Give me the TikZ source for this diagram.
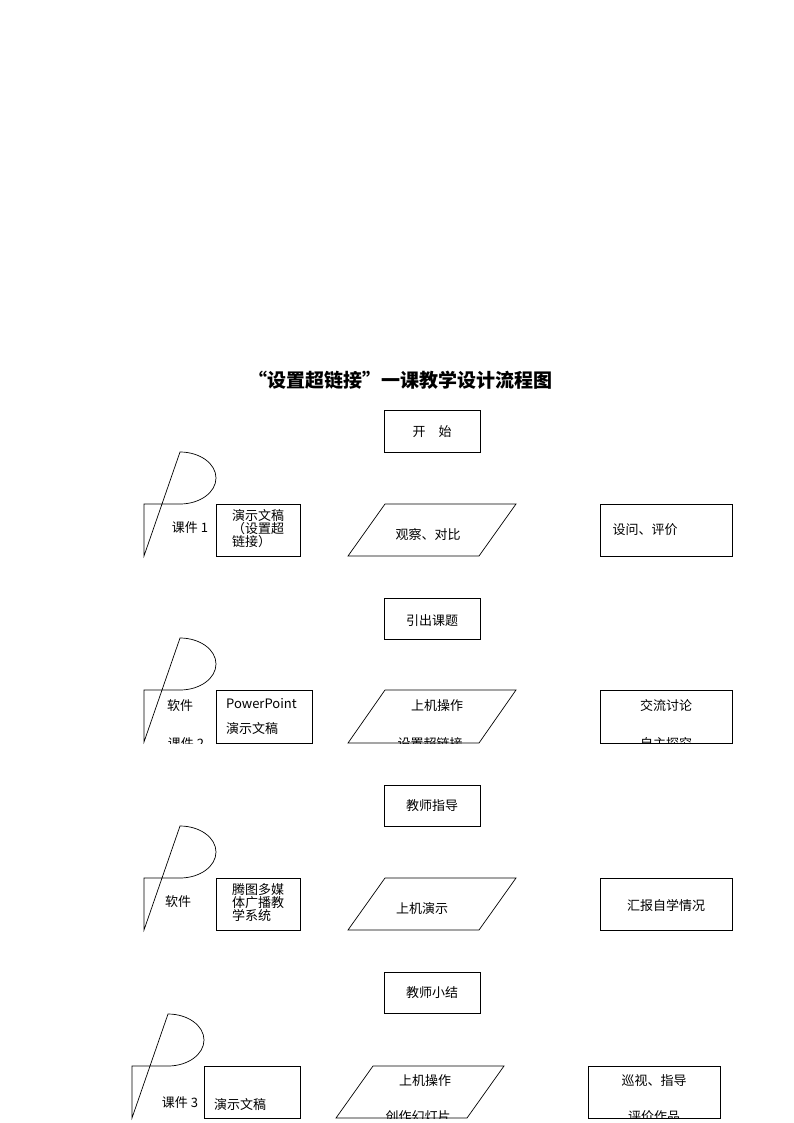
\documentclass[tikz,border=0pt]{standalone}
\usepackage{fontspec}
\setmainfont{Liberation Serif}
\newfontfamily\cjk{Noto Sans CJK SC}
\begin{document}
\begin{tikzpicture}[x=1pt,y=-1pt,
  bx/.style={draw,line width=0.7pt},
  tx/.style={font=\cjk\fontsize{13}{15}\selectfont,inner sep=0pt},
  ttl/.style={font=\cjk\bfseries\fontsize{19}{22}\selectfont}]
\useasboundingbox (0,0) rectangle (794,1123);
\node[ttl] (title) at (400,380) {“设置超链接”一课教学设计流程图};
% center column boxes
\draw[bx] (384,410) rectangle (480,452); \node[tx] (start) at (432,432) {开\quad 始};
\draw[bx] (384,598) rectangle (480,639); \node[tx] (yc) at (432,621) {引出课题};
\draw[bx] (384,785) rectangle (480,826); \node[tx] (zd) at (432,806) {教师指导};
\draw[bx] (384,972) rectangle (480,1013); \node[tx] (xj) at (432,993) {教师小结};
% delay shapes
\foreach \x/\y in {144/504,144/690,144/878,132/1066}{
  \draw[bx] (\x,\y) -- (\x+36,\y) arc[start angle=90,end angle=-90,x radius=36,y radius=26] -- (\x,\y+52) -- cycle;}
% row 1
\node[tx] (k1) at (190,528) {课件 1};
\draw[bx] (216,504) rectangle (300,556);
\node[tx,align=left,font=\cjk\fontsize{13}{13}\selectfont] (r1) at (258,529) {演示文稿\\（设置超\\链接）};
\draw[bx] (348,556) -- (385,504) -- (516,504) -- (479,556) -- cycle;
\node[tx] (p1) at (428,535) {观察、对比};
\draw[bx] (600,504) rectangle (732,556); \node[tx] (q1) at (645,530) {设问、评价};
% row 2
\node[tx] (s2) at (180,706) {软件};
\begin{scope}\clip (144,690) rectangle (216,743); \node[tx] (k2) at (186,744) {课件 2};\end{scope}
\draw[bx] (216,690) rectangle (312,743);
\node[tx,anchor=west] (r2a) at (226,704) {PowerPoint};
\node[tx,anchor=west] (r2b) at (226,729) {演示文稿};
\draw[bx] (348,743) -- (385,690) -- (516,690) -- (479,743) -- cycle;
\node[tx] (p2) at (437,706) {上机操作};
\begin{scope}\clip (340,690) rectangle (520,743); \node[tx] (p2b) at (430,744) {设置超链接};\end{scope}
\draw[bx] (600,690) rectangle (732,743); \node[tx] (q2) at (666,706) {交流讨论};
\begin{scope}\clip (600,690) rectangle (732,743); \node[tx] (q2b) at (666,744) {自主探究};\end{scope}
% row 3
\node[tx] (s3) at (178,902) {软件};
\draw[bx] (216,878) rectangle (300,930);
\node[tx,align=left,font=\cjk\fontsize{13}{13}\selectfont] (r3) at (258,903) {腾图多媒\\体广播教\\学系统};
\draw[bx] (348,930) -- (385,878) -- (516,878) -- (479,930) -- cycle;
\node[tx] (p3) at (422,909) {上机演示};
\draw[bx] (600,878) rectangle (732,930); \node[tx] (q3) at (666,906) {汇报自学情况};
% row 4
\begin{scope}\clip (132,1066) rectangle (204,1118); \node[tx] (k3) at (180,1103) {课件 3};\end{scope}
\draw[bx] (204,1066) rectangle (300,1118);
\node[tx,anchor=west] (r4) at (214,1105) {演示文稿};
\draw[bx] (336,1118) -- (373,1066) -- (504,1066) -- (467,1118) -- cycle;
\node[tx] (p4) at (425,1081) {上机操作};
\begin{scope}\clip (330,1066) rectangle (510,1118); \node[tx] (p4b) at (418,1117) {创作幻灯片};\end{scope}
\draw[bx] (588,1066) rectangle (720,1118); \node[tx] (q4) at (654,1081) {巡视、指导};
\begin{scope}\clip (588,1066) rectangle (720,1118); \node[tx] (q4b) at (654,1117) {评价作品};\end{scope}
\end{tikzpicture}
\end{document}
